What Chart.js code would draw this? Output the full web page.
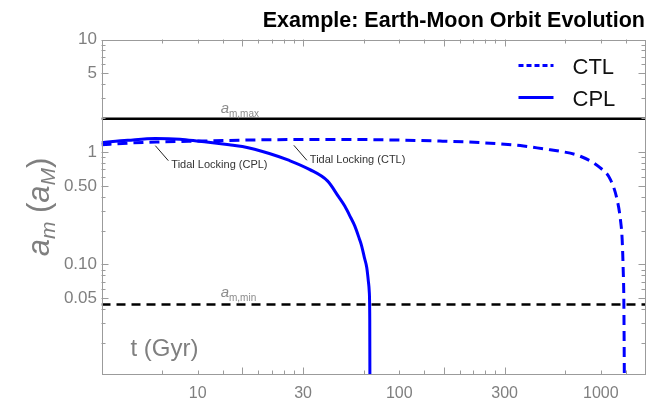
<!DOCTYPE html>
<html>
<head>
<meta charset="utf-8">
<script src="https://cdn.jsdelivr.net/npm/chart.js@4.4.1/dist/chart.umd.min.js"></script>
<style>
  html, body { margin: 0; padding: 0; background: #fff; }
  #wrap { width: 655px; height: 401px; }
</style>
</head>
<body>
<div id="wrap"><canvas id="orbitChart" width="655" height="401"></canvas></div>
<script>
// time axis (Gyr) and semi-major axis (a_M)
const cplTime = [2.0, 2.7, 3.7, 4.9, 6.1, 8.6, 10, 13.6, 17.1, 21.5, 26.5, 30, 32.2, 34.5, 36.1, 38, 39.1, 40.3, 41.4, 42.2, 42.6, 42.85, 42.95];
const cplSemi = [1.21, 1.27, 1.32, 1.30, 1.245, 1.16, 1.12, 0.97, 0.84, 0.70, 0.55, 0.40, 0.33, 0.26, 0.22, 0.17, 0.145, 0.115, 0.094, 0.07, 0.0576, 0.0322, 0.005];

const ctlTime = [2.0, 2.74, 3.73, 6.1, 10.8, 19.2, 34.1, 60.4, 95.5, 151, 239, 318, 378, 475, 597, 670, 723, 751, 766, 775, 781, 787];
const ctlSemi = [1.16, 1.20, 1.225, 1.25, 1.276, 1.29, 1.29, 1.276, 1.25, 1.21, 1.14, 1.06, 1.014, 0.916, 0.722, 0.568, 0.377, 0.250, 0.166, 0.090, 0.0457, 0.005];

const aMax = 1.97;
const aMin = 0.044;

const xRange = [2, 1000];
const yRange = [0.0105, 10];

const xTickValues = [6, 20, 60, 200, 600];
const xTickLabels = ['10', '30', '100', '300', '1000'];
const xMinorTicks = [4, 6, 8, 10, 12, 14, 16, 18, 20, 40, 60, 80, 100, 120, 140, 160, 180, 200, 400, 600, 800];
const xMajorTicks = [10, 20, 100, 200];

const yTickValues = [0.05, 0.1, 0.5, 1, 5, 10];
const yTickLabels = ['0.05', '0.10', '0.50', '1', '5', '10'];

// tidal locking annotations (point on the curve they refer to)
const lockLabels = ['Tidal Locking (CPL)', 'Tidal Locking (CTL)'];
const lockTime = [3.7, 18];
const lockSemi = [1.26, 1.27];

const FONT = "'Liberation Sans', Arial, Helvetica, sans-serif";
const BLUE = 'rgb(0, 0, 255)';
const GRAY = '#7f7f7f';

function toPoints(xs, ys) {
    return xs.map((x, i) => ({ x: x, y: ys[i] }));
}

// draws text pieces (with subscripts) one after another from the origin
function richWidth(ctx, parts) {
    let w = 0;
    parts.forEach(p => { ctx.font = p.font; w += ctx.measureText(p.text).width; });
    return w;
}
function drawRich(ctx, parts, x0, y0) {
    let x = x0;
    parts.forEach(p => {
        ctx.font = p.font;
        ctx.fillText(p.text, x, y0 + (p.dy || 0));
        x += ctx.measureText(p.text).width;
    });
}

const overlay = {
    id: 'overlay',
    afterDatasetsDraw(chart) {
        const { ctx, chartArea: a, scales: { x, y } } = chart;
        ctx.save();
        ctx.strokeStyle = '#9b9b9b';
        ctx.lineWidth = 1;
        ctx.strokeRect(Math.round(a.left) + 0.5, Math.round(a.top) + 0.5,
            Math.round(a.width) - 1, Math.round(a.height) - 1);

        ctx.beginPath();
        xMinorTicks.forEach(v => {
            const px = Math.round(x.getPixelForValue(v)) + 0.5;
            const len = xMajorTicks.includes(v) ? 7 : 4;
            ctx.moveTo(px, a.bottom); ctx.lineTo(px, a.bottom - len);
            ctx.moveTo(px, a.top); ctx.lineTo(px, a.top + len);
        });
        for (let k = -2; k <= 1; k++) {
            for (let m = 1; m <= 9; m++) {
                const v = m * Math.pow(10, k);
                if (v < yRange[0] || v > yRange[1]) continue;
                const py = Math.round(y.getPixelForValue(v)) + 0.5;
                const len = yTickValues.some(t => Math.abs(t - v) < 1e-9) ? 7 : 4;
                ctx.moveTo(a.left, py); ctx.lineTo(a.left + len, py);
                ctx.moveTo(a.right, py); ctx.lineTo(a.right - len, py);
            }
        }
        ctx.stroke();
        ctx.restore();
    },
    afterDraw(chart) {
        const { ctx, chartArea: a, scales: { x, y } } = chart;
        ctx.save();
        ctx.textBaseline = 'alphabetic';

        // title
        ctx.fillStyle = '#000';
        ctx.font = 'bold 21.5px ' + FONT;
        ctx.textAlign = 'right';
        ctx.fillText('Example: Earth-Moon Orbit Evolution', 645, 27);
        ctx.textAlign = 'left';

        // y axis title, rotated
        const yTitle = [
            { text: 'a', font: 'italic 31px ' + FONT },
            { text: 'm', font: 'italic 21px ' + FONT, dy: 6 },
            { text: ' (', font: '31px ' + FONT },
            { text: 'a', font: 'italic 31px ' + FONT },
            { text: 'M', font: 'italic 21px ' + FONT, dy: 6 },
            { text: ')', font: '31px ' + FONT }
        ];
        ctx.fillStyle = GRAY;
        ctx.save();
        ctx.translate(49, (a.top + a.bottom) / 2);
        ctx.rotate(-Math.PI / 2);
        drawRich(ctx, yTitle, -richWidth(ctx, yTitle) / 2, 0);
        ctx.restore();

        // x axis title inside the frame
        ctx.font = '24px ' + FONT;
        ctx.fillText('t (Gyr)', a.left + 29, a.bottom - 19);

        // reference line labels
        ctx.fillStyle = '#8c8c8c';
        const maxPx = x.getPixelForValue(7.8);
        drawRich(ctx, [
            { text: 'a', font: 'italic 15px ' + FONT },
            { text: 'm,max', font: '10px ' + FONT, dy: 4 }
        ], maxPx, y.getPixelForValue(aMax) - 6);
        drawRich(ctx, [
            { text: 'a', font: 'italic 15px ' + FONT },
            { text: 'm,min', font: '10px ' + FONT, dy: 4 }
        ], maxPx, y.getPixelForValue(aMin) - 8);

        // tidal locking callouts
        ctx.strokeStyle = '#222';
        ctx.lineWidth = 1;
        ctx.fillStyle = '#333';
        ctx.font = '11px ' + FONT;
        ctx.textBaseline = 'middle';
        lockLabels.forEach((lbl, i) => {
            const px = x.getPixelForValue(lockTime[i]);
            const py = y.getPixelForValue(lockSemi[i]);
            ctx.beginPath();
            ctx.moveTo(px, py + 5);
            ctx.lineTo(px + 13, py + 20);
            ctx.stroke();
            ctx.fillText(lbl, px + 16, py + 22 + (i === 0 ? 2 : -2));
        });

        // legend
        ctx.font = '22px ' + FONT;
        ctx.fillStyle = '#111';
        const legendSets = chart.data.datasets.filter(d => d.inLegend);
        legendSets.forEach((d, i) => {
            const ly = a.top + 26 + i * 32;
            ctx.save();
            ctx.strokeStyle = d.borderColor;
            ctx.lineWidth = 3;
            ctx.setLineDash(d.legendDash || []);
            ctx.beginPath();
            ctx.moveTo(a.right - 127, ly);
            ctx.lineTo(a.right - 92, ly);
            ctx.stroke();
            ctx.restore();
            ctx.fillText(d.label, a.right - 73, ly + 2);
        });
        ctx.restore();
    }
};

const ctx = document.getElementById('orbitChart').getContext('2d');

new Chart(ctx, {
    type: 'line',
    data: {
        datasets: [
            {
                label: 'CTL',
                data: toPoints(ctlTime, ctlSemi),
                borderColor: BLUE,
                borderWidth: 3,
                borderDash: [10, 6],
                legendDash: [5, 3],
                inLegend: true,
                pointRadius: 0,
                cubicInterpolationMode: 'monotone',
                clip: 0
            },
            {
                label: 'CPL',
                data: toPoints(cplTime, cplSemi),
                borderColor: BLUE,
                borderWidth: 3,
                inLegend: true,
                pointRadius: 0,
                cubicInterpolationMode: 'monotone',
                clip: 0
            },
            {
                label: 'a_m,max',
                data: toPoints(xRange, [aMax, aMax]),
                borderColor: '#000',
                borderWidth: 2.5,
                pointRadius: 0,
                clip: 0
            },
            {
                label: 'a_m,min',
                data: toPoints(xRange, [aMin, aMin]),
                borderColor: '#000',
                borderWidth: 2.5,
                borderDash: [9, 6],
                pointRadius: 0,
                clip: 0
            }
        ]
    },
    options: {
        responsive: false,
        animation: false,
        layout: {
            padding: { top: 39.5, right: 9.5, left: 0, bottom: 0 }
        },
        plugins: {
            legend: { display: false },
            title: { display: false },
            tooltip: { enabled: false }
        },
        scales: {
            x: {
                type: 'logarithmic',
                min: xRange[0],
                max: xRange[1],
                grid: { display: false, drawTicks: false },
                border: { display: false },
                afterBuildTicks: scale => {
                    scale.ticks = xTickValues.map(v => ({ value: v }));
                },
                afterFit: scale => { scale.height = 26.5; },
                ticks: {
                    autoSkip: false,
                    maxRotation: 0,
                    padding: 9,
                    color: GRAY,
                    font: { family: FONT, size: 16 },
                    callback: (value, index) => xTickLabels[index]
                }
            },
            y: {
                type: 'logarithmic',
                min: yRange[0],
                max: yRange[1],
                grid: { display: false, drawTicks: false },
                border: { display: false },
                afterBuildTicks: scale => {
                    scale.ticks = yTickValues.map(v => ({ value: v }));
                },
                afterFit: scale => { scale.width = 101.5; },
                ticks: {
                    autoSkip: false,
                    padding: 4.5,
                    color: GRAY,
                    font: { family: FONT, size: 17 },
                    callback: (value, index) => yTickLabels[index]
                }
            }
        }
    },
    plugins: [overlay]
});
</script>
</body>
</html>
